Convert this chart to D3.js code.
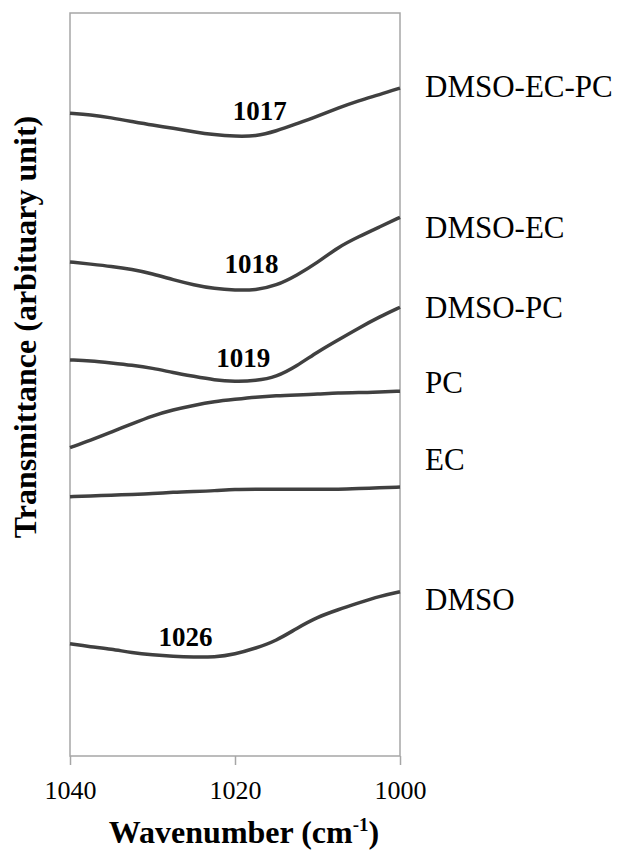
<!DOCTYPE html>
<html>
<head>
<meta charset="utf-8">
<script src="https://cdn.jsdelivr.net/npm/d3@7"></script>
<style>
  body { margin: 0; background: #fff; }
  svg { display: block; }
  svg text { font-family: "Liberation Serif", "Times New Roman", serif; }
</style>
</head>
<body>
<div id="chart"></div>
<script>
  // wavenumber grid (cm-1), every 2.5 from 1040 down to 1000
  var wavenumbers = [1040, 1037.5, 1035, 1032.5, 1030, 1027.5, 1025, 1022.5, 1020,
                     1017.5, 1015, 1012.5, 1010, 1007.5, 1005, 1002.5, 1000];

  // transmittance, arbitrary (offset) units
  var dmso_ec_pc = [86.5, 86.3, 85.9, 85.4, 84.9, 84.5, 84.0, 83.6, 83.4, 83.4, 84.1, 85.1, 86.1, 87.2, 88.2, 89.0, 89.9];
  var dmso_ec    = [66.5, 66.2, 65.9, 65.5, 64.9, 64.1, 63.4, 62.9, 62.7, 62.7, 63.3, 64.7, 66.4, 68.5, 69.9, 71.2, 72.5];
  var dmso_pc    = [53.3, 53.2, 52.9, 52.6, 52.2, 51.6, 51.1, 50.6, 50.4, 50.5, 51.0, 52.5, 54.4, 56.0, 57.6, 59.1, 60.4];
  var pc         = [41.5, 42.5, 43.6, 44.7, 45.8, 46.6, 47.2, 47.7, 48.0, 48.3, 48.5, 48.6, 48.7, 48.9, 48.9, 49.0, 49.1];
  var ec         = [34.9, 35.0, 35.1, 35.2, 35.3, 35.5, 35.6, 35.7, 35.9, 35.9, 35.9, 35.9, 35.9, 35.9, 36.0, 36.1, 36.2];
  var dmso       = [15.1, 14.7, 14.4, 13.9, 13.6, 13.4, 13.3, 13.3, 13.7, 14.5, 15.5, 17.2, 18.7, 19.7, 20.6, 21.5, 22.1];

  var seriesNames  = ["DMSO-EC-PC", "DMSO-EC", "DMSO-PC", "PC", "EC", "DMSO"];
  var seriesValues = [dmso_ec_pc, dmso_ec, dmso_pc, pc, ec, dmso];
  var nameLevels   = [88.7, 69.7, 59.0, 48.9, 38.5, 19.7];   // where each name sits (y units)

  // peak annotations
  var peakLabels = [1017, 1018, 1019, 1026];
  var peakLevels = [85.6, 65.0, 52.4, 14.8];

  var xTicks = [1040, 1020, 1000];

  var margin = {top: 13, right: 221, bottom: 94, left: 70};
  var W = 621, H = 850;
  var width = W - margin.left - margin.right,
      height = H - margin.top - margin.bottom;

  var svg = d3.select("#chart").append("svg")
      .attr("width", W)
      .attr("height", H);

  var g = svg.append("g")
      .attr("transform", "translate(" + margin.left + "," + margin.top + ")");

  ////// scales //////
  var xScale = d3.scaleLinear().domain([1040, 1000]).range([0, width]);
  var yScale = d3.scaleLinear().domain([0, 100]).range([height, 0]);

  ////// frame //////
  g.append("rect")
      .attr("x", 0).attr("y", 0)
      .attr("width", width).attr("height", height)
      .attr("fill", "none")
      .attr("stroke", "#a6a6a6")
      .attr("stroke-width", 1.5);

  ////// x axis //////
  var xAxis = d3.axisBottom(xScale)
      .tickValues(xTicks)
      .tickSize(9)
      .tickPadding(16)
      .tickFormat(d3.format("d"));

  var ax = g.append("g")
      .attr("transform", "translate(0," + height + ")")
      .call(xAxis)
      .attr("font-family", null);
  ax.select(".domain").remove();
  ax.selectAll(".tick line").attr("stroke", "#a6a6a6").attr("stroke-width", 1.5);
  ax.selectAll(".tick text")
      .attr("fill", "#000")
      .style("font-size", "26px");

  ////// curves //////
  var line = d3.line()
      .x(function(d) { return xScale(d.x); })
      .y(function(d) { return yScale(d.y); })
      .curve(d3.curveBasis);

  seriesValues.forEach(function(vals, i) {
    var pts = vals.map(function(v, j) { return {x: wavenumbers[j], y: v}; });
    g.append("path")
        .datum(pts)
        .attr("d", line)
        .attr("fill", "none")
        .attr("stroke", "#404040")
        .attr("stroke-width", 3.5)
        .attr("stroke-linejoin", "round");

    g.append("text")
        .attr("x", width + 25)
        .attr("y", yScale(nameLevels[i]))
        .style("font-size", "31px")
        .attr("fill", "#000")
        .text(seriesNames[i]);
  });

  ////// peak labels //////
  peakLabels.forEach(function(p, i) {
    g.append("text")
        .attr("x", xScale(p))
        .attr("y", yScale(peakLevels[i]))
        .attr("text-anchor", "middle")
        .style("font-weight", "bold")
        .style("font-size", "27px")
        .attr("fill", "#000")
        .text(p);
  });

  ////// axis titles //////
  var xt = svg.append("text")
      .attr("x", 244)
      .attr("y", 843)
      .attr("text-anchor", "middle")
      .style("font-weight", "bold")
      .style("font-size", "32px");
  xt.append("tspan").text("Wavenumber (cm");
  xt.append("tspan").attr("dy", -12).style("font-size", "19px").text("-1");
  xt.append("tspan").attr("dy", 12).text(")");

  svg.append("text")
      .attr("transform", "translate(36,327) rotate(-90)")
      .attr("text-anchor", "middle")
      .style("font-weight", "bold")
      .style("font-size", "32px")
      .text("Transmittance (arbituary unit)");
</script>
</body>
</html>
